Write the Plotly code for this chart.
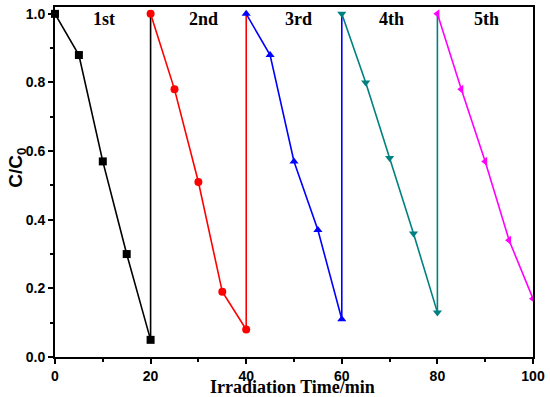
import plotly.graph_objects as go

time_1 = [0, 5, 10, 15, 20]
time_2 = [20, 25, 30, 35, 40]
time_3 = [40, 45, 50, 55, 60]
time_4 = [60, 65, 70, 75, 80]
time_5 = [80, 85, 90, 95, 100]

c_1 = [1.0, 0.88, 0.57, 0.30, 0.05]
c_2 = [1.0, 0.78, 0.51, 0.19, 0.08]
c_3 = [1.0, 0.88, 0.57, 0.37, 0.11]
c_4 = [1.0, 0.80, 0.58, 0.36, 0.13]
c_5 = [1.0, 0.78, 0.57, 0.34, 0.17]

cycle_labels = ["1st", "2nd", "3rd", "4th", "5th"]
label_x = [10.3, 31, 51, 70.5, 90.2]
label_y = [0.985, 0.985, 0.985, 0.985, 0.985]

x_title = "Irradiation Time/min"
y_title = "C/C<sub>0</sub>"

colors = ["#000000", "#ff0000", "#0000ff", "#008080", "#ff00ff"]
symbols = ["square", "circle", "triangle-up", "triangle-down", "triangle-left"]

times = [time_1, time_2, time_3, time_4, time_5]
concs = [c_1, c_2, c_3, c_4, c_5]

fig = go.Figure()
for i, (t, c) in enumerate(zip(times, concs)):
    # vertical return line to the start of the next cycle
    if i < 4:
        fig.add_trace(go.Scatter(
            x=[t[-1], t[-1]], y=[c[-1], 1.0], mode="lines",
            line=dict(color=colors[i], width=1.6),
            cliponaxis=False, showlegend=False, hoverinfo="skip"))
    fig.add_trace(go.Scatter(
        x=t, y=c, mode="lines+markers",
        line=dict(color=colors[i], width=1.6),
        marker=dict(symbol=symbols[i], color=colors[i], size=8),
        cliponaxis=False, showlegend=False))

for lx, ly, txt in zip(label_x, label_y, cycle_labels):
    fig.add_annotation(x=lx, y=ly, text="<b>%s</b>" % txt, showarrow=False,
                       font=dict(family="Liberation Serif", size=18, color="black"),
                       xanchor="center", yanchor="middle")

# axis titles
fig.add_annotation(xref="paper", yref="paper", x=0.496, y=-0.087,
                   text="<b>%s</b>" % x_title, showarrow=False,
                   font=dict(family="Liberation Serif", size=18, color="black"),
                   xanchor="center", yanchor="middle")
fig.add_annotation(xref="paper", yref="paper", x=-0.08, y=0.54,
                   text="<b>%s</b>" % y_title, showarrow=False, textangle=-90,
                   font=dict(family="Liberation Sans", size=19, color="black"),
                   xanchor="center", yanchor="middle")

fig.update_layout(
    width=550, height=397,
    margin=dict(l=55, r=17, t=7, b=40),
    plot_bgcolor="white", paper_bgcolor="white",
    xaxis=dict(range=[0, 100], tickvals=[0, 20, 40, 60, 80, 100],
               ticks="outside", ticklen=5, tickwidth=1.5, tickcolor="black",
               minor=dict(tickvals=[10, 30, 50, 70, 90], ticks="outside", ticklen=3, tickwidth=1.5, tickcolor="black"),
               showline=True, linecolor="black", linewidth=1.8, mirror=True,
               showgrid=False, zeroline=False, automargin=False,
               tickfont=dict(family="Liberation Sans", size=14, color="black", weight="bold")),
    yaxis=dict(range=[0, 1.02], tickvals=[0, 0.2, 0.4, 0.6, 0.8, 1.0],
               ticktext=["0.0", "0.2", "0.4", "0.6", "0.8", "1.0"],
               ticks="outside", ticklen=5, tickwidth=1.5, tickcolor="black",
               minor=dict(tickvals=[0.1, 0.3, 0.5, 0.7, 0.9], ticks="outside", ticklen=3, tickwidth=1.5, tickcolor="black"),
               showline=True, linecolor="black", linewidth=1.8, mirror=True,
               showgrid=False, zeroline=False, automargin=False,
               tickfont=dict(family="Liberation Sans", size=14, color="black", weight="bold")),
)

fig.write_html("out.html", config={"displayModeBar": False},
               post_script="document.body.style.margin='0';")
